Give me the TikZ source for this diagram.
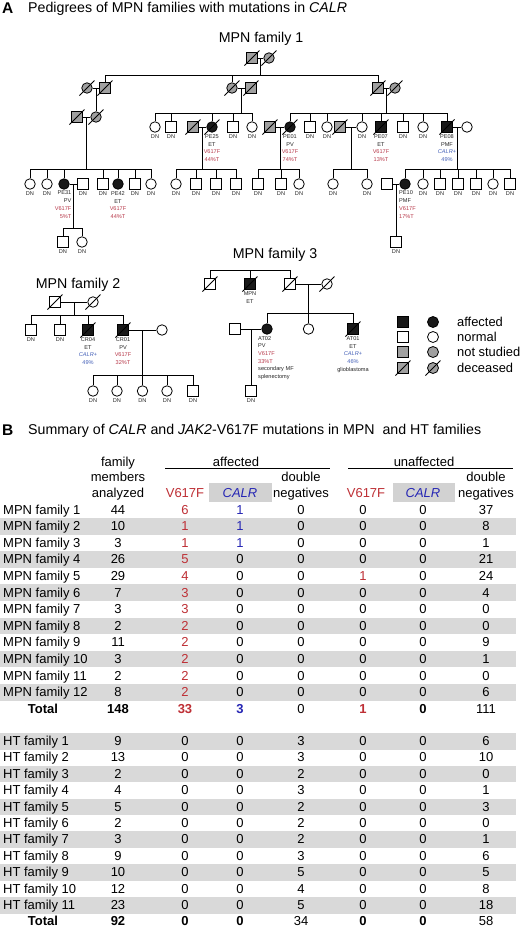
\documentclass[tikz,border=0pt]{standalone}
\usepackage{fontspec}
\setmainfont{Liberation Sans}
\usetikzlibrary{calc}
\definecolor{pred}{HTML}{B8394A}
\definecolor{pblue}{HTML}{4460B8}
\definecolor{tred}{HTML}{BE2F35}
\definecolor{tblue}{HTML}{2626B4}
\definecolor{sgrey}{HTML}{A0A0A0}
\definecolor{band}{HTML}{D9D9D9}
\definecolor{hbox}{HTML}{D2D2D2}
\newcommand\rd[1]{\textcolor{pred}{#1}}
\newcommand\bl[1]{\textcolor{pblue}{#1}}
\newcommand\TR[1]{\textcolor{tred}{#1}}
\newcommand\TB[1]{\textcolor{tblue}{#1}}
\tikzset{
 pers/.style={draw=black, line width=0.8pt, inner sep=0pt, minimum size=10.5pt, fill=white},
 msq/.style={pers, rectangle},
 fem/.style={pers, circle},
 aff/.style={fill=black!90},
 nst/.style={fill=sgrey},
 lbl/.style={font=\fontsize{5.6}{7.7}\selectfont, align=center, inner sep=0pt, text=black!85},
 ln/.style={line width=0.8pt},
 ttl/.style={font=\fontsize{14.2}{14}\selectfont, inner sep=0pt},
 tc/.style={font=\fontsize{13}{13}\selectfont, inner sep=0pt},
 tcb/.style={font=\fontsize{13}{13}\selectfont\bfseries, inner sep=0pt},
 lgt/.style={font=\fontsize{12.9}{13}\selectfont, inner sep=0pt, anchor=west},
}
\newcommand\dcs[1]{\draw[ln] ([shift={(-7.5pt,-7.5pt)}]#1.center) -- ([shift={(7.5pt,7.5pt)}]#1.center);}
\newcommand\lb[2]{\node[lbl,anchor=north] (#1l) at ([yshift=-1.8pt]#1.south) {#2};}
\newcommand\cpl[3]{\draw[ln] (#2.east) -- (#3.west); \coordinate (#1) at ($(#2.east)!0.5!(#3.west)$);}
\newcommand\kids[3]{\coordinate (tmpy) at (0,#2); \coordinate (#1s) at (#1 |- tmpy); \draw[ln] (#1) -- (#1s); \foreach \kk in {#3}{\draw[ln] (#1s) -| (\kk.north);}}
\newcommand\tvals[3]{\foreach \v [count=\k] in {#3} {\pgfmathsetmacro\cx{{118,185,240,301,363,423,486}[\k-1]} \node[tc,anchor=base] (#1-\k) at (\cx,#2) {\v};}}
\newcommand\trow[4]{\node[tc,anchor=base west] (#1) at (3,#2) {#3}; \tvals{#1}{#2}{#4}}
\begin{document}
\begin{tikzpicture}[x=1pt,y=-1pt]
\fill[white] (0,0) rectangle (520,927);
\useasboundingbox (0,0) rectangle (520,927);
% titles
\node[anchor=base west, inner sep=0pt, font=\fontsize{15.5}{15}\selectfont\bfseries] (tA) at (2,13) {A};
\node[ttl, anchor=base west] (tAt) at (28,12.5) {Pedigrees of MPN families with mutations in \textit{CALR}};
\node[ttl, anchor=base] (f1t) at (261,42) {MPN family 1};
\node[ttl, anchor=base] (f2t) at (78,288) {MPN family 2};
\node[ttl, anchor=base] (f3t) at (275,258) {MPN family 3};
% ---------- family 1 ----------
\node[msq,nst] (A1) at (252,58) {};
\node[fem,nst] (A2) at (269,58) {};
\node[fem,nst] (B1) at (87,88) {};
\node[msq,nst] (B2) at (105,88) {};
\node[fem,nst] (B3) at (232,88) {};
\node[msq,nst] (B4) at (251,88) {};
\node[msq,nst] (B5) at (378,88) {};
\node[fem,nst] (B6) at (395,88) {};
\node[msq,nst] (C1) at (77,117) {};
\node[fem,nst] (C2) at (96,117) {};
\node[fem] (C3) at (155,127) {};
\node[msq] (C4) at (171,127) {};
\node[msq,nst] (C5) at (193,127) {};
\node[fem,aff] (C6) at (212,127) {};
\node[msq] (C7) at (233,127) {};
\node[fem] (C8) at (252,127) {};
\node[msq,nst] (C9) at (270,127) {};
\node[fem,aff] (C10) at (290,127) {};
\node[msq] (C11) at (310,127) {};
\node[fem] (C12) at (327,127) {};
\node[msq,nst] (C13) at (340,127) {};
\node[fem] (C14) at (362,127) {};
\node[msq,aff] (C15) at (381,127) {};
\node[msq] (C16) at (403,127) {};
\node[fem] (C17) at (423,127) {};
\node[msq,aff] (C18) at (447,127) {};
\node[fem] (C19) at (467,127) {};
\node[fem] (D1) at (30,184) {};
\node[fem] (D2) at (47,184) {};
\node[fem,aff] (D3) at (64,184) {};
\node[msq] (D4) at (83,184) {};
\node[msq] (D5) at (103,184) {};
\node[fem,aff] (D6) at (118,184) {};
\node[msq] (D7) at (135,184) {};
\node[fem] (D8) at (151,184) {};
\node[fem] (D9) at (176,184) {};
\node[msq] (D10) at (196,184) {};
\node[msq] (D11) at (216,184) {};
\node[msq] (D12) at (236,184) {};
\node[msq] (D13) at (258,184) {};
\node[msq] (D14) at (281,184) {};
\node[fem] (D15) at (299,184) {};
\node[fem] (D16) at (333,184) {};
\node[fem] (D17) at (367,184) {};
\node[msq] (D18) at (387,184) {};
\node[fem,aff] (D19) at (405,184) {};
\node[fem] (D20) at (423,184) {};
\node[msq] (D21) at (440,184) {};
\node[msq] (D22) at (458,184) {};
\node[msq] (D23) at (476,184) {};
\node[fem] (D24) at (493,184) {};
\node[msq] (D25) at (510,184) {};
\node[msq] (E1) at (63,242) {};
\node[fem] (E2) at (82,242) {};
\node[msq] (E3) at (396,242) {};
\cpl{mA}{A1}{A2}
\cpl{mB12}{B1}{B2}
\cpl{mB34}{B3}{B4}
\cpl{mB56}{B5}{B6}
\cpl{mC12}{C1}{C2}
\cpl{mC56}{C5}{C6}
\cpl{mC910}{C9}{C10}
\cpl{mC1314}{C13}{C14}
\cpl{mC1819}{C18}{C19}
\cpl{mD34}{D3}{D4}
\cpl{mD1819}{D18}{D19}
\kids{mA}{75}{B2,B3,B5}
\draw[ln] (mB12) -- (C2.north);
\kids{mB34}{113}{C3,C4,C6,C7,C8}
\kids{mB56}{113}{C10,C11,C12,C14,C15,C16,C17,C18}
\kids{mC12}{169}{D1,D2,D3,D5,D6,D7,D8}
\kids{mC56}{169}{D9,D10,D11,D12}
\kids{mC910}{169}{D13,D14,D15}
\kids{mC1314}{169}{D16,D17}
\kids{mC1819}{169}{D19,D20,D21,D22,D23,D24,D25}
\kids{mD34}{228}{E1,E2}
\draw[ln] (mD1819) -- (E3.north);
\foreach \n in {A1,A2,B1,B2,B3,B4,B5,B6,C1,C2,C5,C6,C9,C10,C13,C15,C18} {\dcs{\n}}
\foreach \n in {C3,C4,C7,C8,C11,C12,C14,C16,C17,D1,D2,D4,D5,D7,D8,D9,D10,D11,D12,D13,D14,D15,D16,D17,D20,D21,D22,D23,D24,D25,E1,E2,E3} {\lb{\n}{DN}}
\lb{C6}{PE25\\ET\\\rd{V617F}\\\rd{44\%T}}
\lb{C10}{PE01\\PV\\\rd{V617F}\\\rd{74\%T}}
\lb{C15}{PE07\\ET\\\rd{V617F}\\\rd{13\%T}}
\lb{C18}{PE08\\PMF\\\bl{\textit{CALR}+}\\\bl{49\%}}
\lb{D6}{PE42\\ET\\\rd{V617F}\\\rd{44\%T}}
\node[lbl,align=right,anchor=north east] (D3l) at (71.5,190.8) {PE31\\PV\\\rd{V617F}\\\rd{5\%T}};
\node[lbl,align=left,anchor=north west] (D19l) at (399,190.8) {PE10\\PMF\\\rd{V617F}\\\rd{17\%T}};
% ---------- family 2 ----------
\node[msq] (F1) at (55,302) {};
\node[fem] (F2) at (93,302) {};
\node[msq] (G1) at (31,330) {};
\node[msq] (G2) at (60,330) {};
\node[msq,aff] (G3) at (88,330) {};
\node[msq,aff] (G4) at (123,330) {};
\node[fem] (G5) at (162,330) {};
\node[fem] (H1) at (93,391) {};
\node[fem] (H2) at (117,391) {};
\node[fem] (H3) at (142.5,391) {};
\node[fem] (H4) at (167,391) {};
\node[msq] (H5) at (193,391) {};
\cpl{mF}{F1}{F2}
\kids{mF}{315}{G1,G2,G3,G4}
\cpl{mG}{G4}{G5}
\kids{mG}{375}{H1,H2,H3,H4,H5}
\foreach \n in {F1,F2,G3,G4} {\dcs{\n}}
\foreach \n in {G1,G2,H1,H2,H3,H4,H5} {\lb{\n}{DN}}
\lb{G3}{CR04\\ET\\\bl{\textit{CALR}+}\\\bl{49\%}}
\lb{G4}{CR01\\PV\\\rd{V617F}\\\rd{32\%T}}
% ---------- family 3 ----------
\node[msq] (J1) at (210,284) {};
\node[msq,aff] (J2) at (250,284) {};
\node[msq] (J3) at (290,284) {};
\node[fem] (J4) at (327,284) {};
\node[msq] (K1) at (235,329) {};
\node[fem,aff] (K2) at (267,329) {};
\node[fem] (K3) at (308.5,329) {};
\node[msq,aff] (K4) at (353,329) {};
\node[msq] (L1) at (251,391) {};
\coordinate (mJ) at (250,270);
\kids{mJ}{270}{J1,J2,J3}
\cpl{mJ34}{J3}{J4}
\kids{mJ34}{313}{K2,K3,K4}
\cpl{mK}{K1}{K2}
\draw[ln] (mK) -- (L1.north);
\foreach \n in {J1,J2,J3,J4,K4} {\dcs{\n}}
\lb{J2}{MPN\\ET}
\lb{K4}{AT01\\ET\\\bl{\textit{CALR}+}\\\bl{46\%}\\glioblastoma}
\lb{L1}{DN}
\node[lbl,align=left,anchor=north west] (K2l) at (258,336) {AT02\\PV\\\rd{V617F}\\\rd{33\%T}\\secondary MF\\splenectomy};
% ---------- legend ----------
\node[msq,aff,minimum size=11pt] (La1) at (403,322) {};
\node[fem,aff,minimum size=11pt] (Lb1) at (433,322) {};
\node[lgt] (Lt1) at (457,322) {affected};
\node[msq,minimum size=11pt] (La2) at (403,337) {};
\node[fem,minimum size=11pt] (Lb2) at (433,337) {};
\node[lgt] (Lt2) at (457,337) {normal};
\node[msq,nst,minimum size=11pt] (La3) at (403,352) {};
\node[fem,nst,minimum size=11pt] (Lb3) at (433,352) {};
\node[lgt] (Lt3) at (457,352) {not studied};
\node[msq,nst,minimum size=11pt] (La4) at (403,368) {};
\node[fem,nst,minimum size=11pt] (Lb4) at (433,368) {};
\node[lgt] (Lt4) at (457,368) {deceased};
\dcs{La4}\dcs{Lb4}
% ---------- section B ----------
\node[anchor=base west, inner sep=0pt, font=\fontsize{15.5}{15}\selectfont\bfseries] (tB) at (2,435) {B};
\node[ttl, anchor=base west] (tBt) at (28,434.5) {Summary of \textit{CALR} and \textit{JAK2}-V617F mutations in MPN\ \ and HT families};
% header
\fill[hbox] (209,483) rectangle (272,502);
\fill[hbox] (393,483) rectangle (455,502);
\node[tc,anchor=base] (hf1) at (118,466) {family};
\node[tc,anchor=base] (hf2) at (118,481.5) {members};
\node[tc,anchor=base] (hf3) at (118,497) {analyzed};
\node[tc,anchor=base] (ha) at (236,466) {affected};
\node[tc,anchor=base] (hu) at (424,466) {unaffected};
\coordinate (la1) at (165,468.5); \coordinate (la2) at (330,468.5);
\coordinate (lu1) at (348,468.5); \coordinate (lu2) at (513,468.5);
\draw[line width=0.9pt] (la1) -- (la2);
\draw[line width=0.9pt] (lu1) -- (lu2);
\node[tc,anchor=base] (hv1) at (185,497) {\TR{V617F}};
\node[tc,anchor=base] (hc1) at (240,497) {\TB{\textit{CALR}}};
\node[tc,anchor=base] (hd1) at (301,481.5) {double};
\node[tc,anchor=base] (hd2) at (301,497) {negatives};
\node[tc,anchor=base] (hv2) at (366,497) {\TR{V617F}};
\node[tc,anchor=base] (hc2) at (423,497) {\TB{\textit{CALR}}};
\node[tc,anchor=base] (hd3) at (486,481.5) {double};
\node[tc,anchor=base] (hd4) at (486,497) {negatives};
% bands
\foreach \yb in {530.6,563.8,597.0,630.2,663.4,696.6,745.5,778.3,811.1,843.9,876.7,909.5} {\fill[band] (0,\yb-12.6) rectangle (516,\yb+4);}
% MPN rows
\trow{m1}{514}{MPN family 1}{44,\TR{6},\TB{1},0,0,0,37}
\trow{m2}{530.6}{MPN family 2}{10,\TR{1},\TB{1},0,0,0,8}
\trow{m3}{547.2}{MPN family 3}{3,\TR{1},\TB{1},0,0,0,1}
\trow{m4}{563.8}{MPN family 4}{26,\TR{5},0,0,0,0,21}
\trow{m5}{580.4}{MPN family 5}{29,\TR{4},0,0,\TR{1},0,24}
\trow{m6}{597.0}{MPN family 6}{7,\TR{3},0,0,0,0,4}
\trow{m7}{613.6}{MPN family 7}{3,\TR{3},0,0,0,0,0}
\trow{m8}{630.2}{MPN family 8}{2,\TR{2},0,0,0,0,0}
\trow{m9}{646.8}{MPN family 9}{11,\TR{2},0,0,0,0,9}
\trow{m10}{663.4}{MPN family 10}{3,\TR{2},0,0,0,0,1}
\trow{m11}{680.0}{MPN family 11}{2,\TR{2},0,0,0,0,0}
\trow{m12}{696.6}{MPN family 12}{8,\TR{2},0,0,0,0,6}
\node[tcb,anchor=base] (mt) at (43,713.2) {Total};
\tvals{mt}{713.2}{\textbf{148},\TR{\textbf{33}},\TB{\textbf{3}},0,\TR{\textbf{1}},\textbf{0},111}
% HT rows
\trow{h1}{745.5}{HT family 1}{9,0,0,3,0,0,6}
\trow{h2}{761.9}{HT family 2}{13,0,0,3,0,0,10}
\trow{h3}{778.3}{HT family 3}{2,0,0,2,0,0,0}
\trow{h4}{794.7}{HT family 4}{4,0,0,3,0,0,1}
\trow{h5}{811.1}{HT family 5}{5,0,0,2,0,0,3}
\trow{h6}{827.5}{HT family 6}{2,0,0,2,0,0,0}
\trow{h7}{843.9}{HT family 7}{3,0,0,2,0,0,1}
\trow{h8}{860.3}{HT family 8}{9,0,0,3,0,0,6}
\trow{h9}{876.7}{HT family 9}{10,0,0,5,0,0,5}
\trow{h10}{893.1}{HT family 10}{12,0,0,4,0,0,8}
\trow{h11}{909.5}{HT family 11}{23,0,0,5,0,0,18}
\node[tcb,anchor=base] (ht) at (43,925.5) {Total};
\tvals{ht}{925.5}{\textbf{92},\textbf{0},\textbf{0},34,\textbf{0},\textbf{0},58}
\end{tikzpicture}
\end{document}
